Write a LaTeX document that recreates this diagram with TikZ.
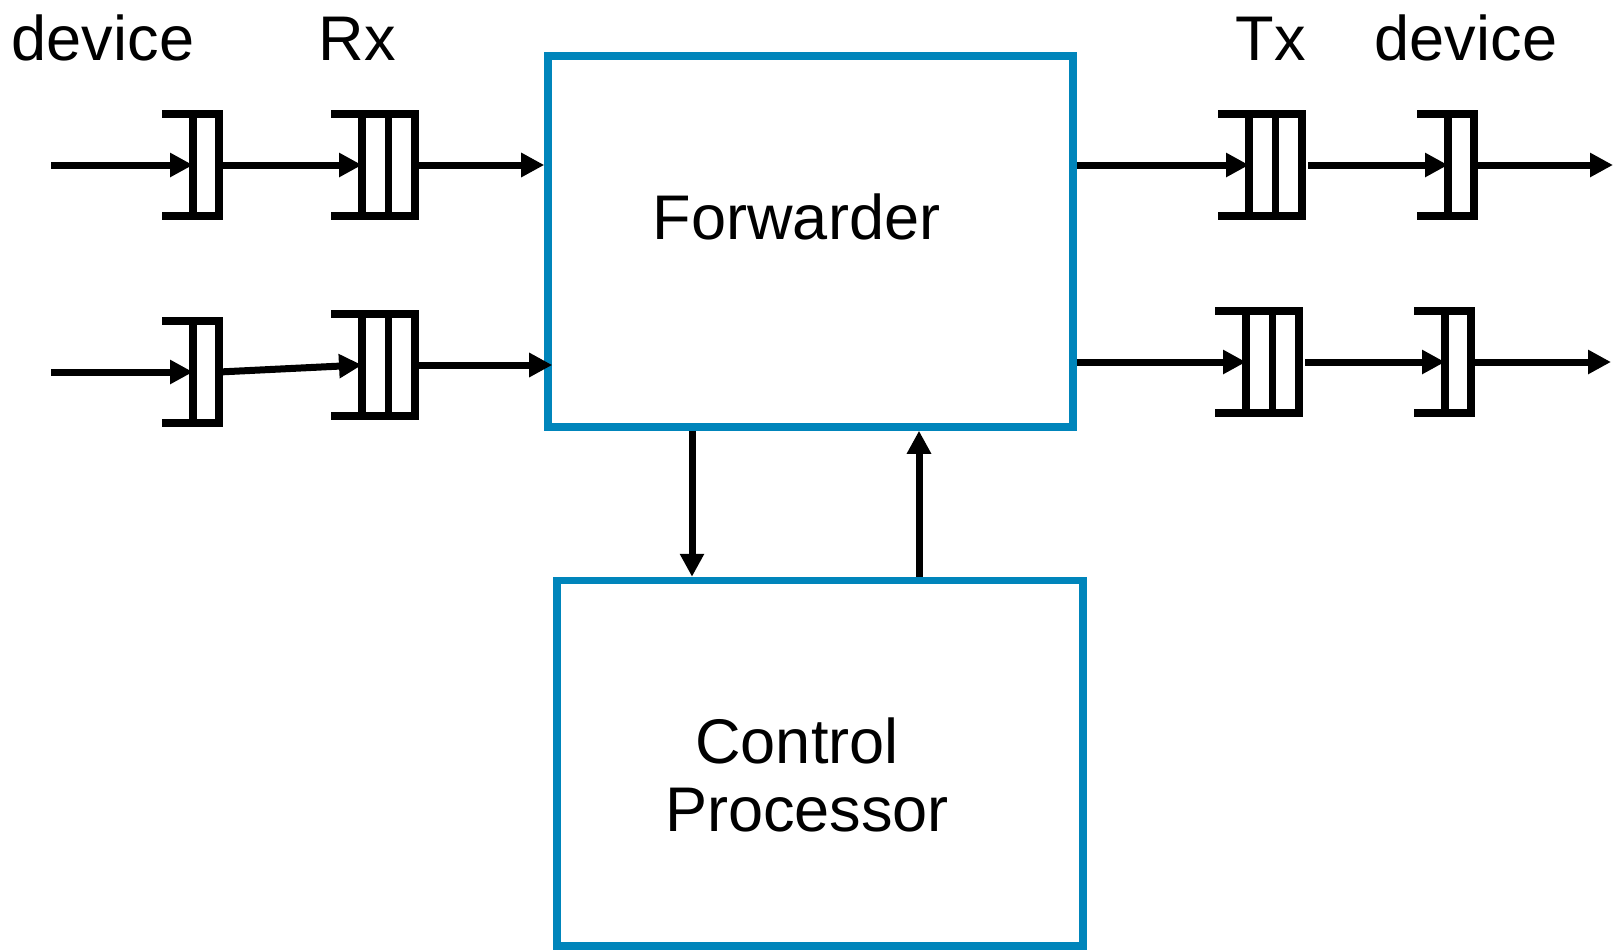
\documentclass[tikz,border=0pt]{standalone}
\usepackage{fontspec}
\setmainfont{Liberation Sans}
\usetikzlibrary{arrows.meta, calc}

\definecolor{hubblue}{RGB}{0,133,187}

\tikzset{
    queue/.style={draw, line width=1.45mm, inner sep=0pt, outer sep=0pt,
                  minimum height=20.4mm},
    hub/.style={draw=hubblue, line width=1.5mm, inner sep=0pt},
    lbl/.style={font=\fontsize{35.9}{43}\selectfont, inner sep=0pt, anchor=base},
    flow/.style={->, line width=1.4mm},
}

\begin{document}
\begin{tikzpicture}[>={Triangle[length=4.6mm, width=4.6mm]}, x=0.2mm, y=-0.2mm]

    \useasboundingbox (0,0) rectangle (1615,952);

    % Labels on top
    \node[lbl] (devinlbl)  at (103,60)  {device};
    \node[lbl] (rxlbl)     at (357,60)  {Rx};
    \node[lbl] (txlbl)     at (1271,60) {Tx};
    \node[lbl] (devoutlbl) at (1466,60) {device};

    % Queues (device and Rx on the left, Tx and device on the right)
    \node[queue, minimum width=5.2mm]  (dva) at (206,165)    {};
    \node[queue, minimum width=10.6mm] (rxa) at (388.5,165)  {};
    \node[queue, minimum width=5.2mm]  (dvb) at (206,372)    {};
    \node[queue, minimum width=10.6mm] (rxb) at (388.5,365)  {};
    \node[queue, minimum width=10.6mm] (txa) at (1275.5,165) {};
    \node[queue, minimum width=5.2mm]  (dra) at (1461,165)   {};
    \node[queue, minimum width=10.6mm] (txb) at (1272.5,362) {};
    \node[queue, minimum width=5.2mm]  (drb) at (1458,362)   {};

    % open ends and cell walls
    \foreach \q in {dva,dvb,rxa,rxb,txa,txb,dra,drb}
        \draw[line width=1.45mm] (\q.north west) -- ++(-31,0)
                                 (\q.south west) -- ++(-31,0);
    \foreach \q in {rxa,rxb,txa,txb}
        \draw[line width=1.45mm] (\q.north) -- (\q.south);

    % Blue blocks
    \node[hub, minimum width=105mm, minimum height=74.2mm] (fwd) at (810.5,241.5) {};
    \node[hub, minimum width=105.2mm, minimum height=73.1mm] (ctl) at (820,763.25) {};
    \node[lbl] (fwdlbl)  at (796.5,239) {Forwarder};
    \node[lbl] (ctllbl)  at (797,763)   {Control};
    \node[lbl] (ctllblb) at (807,831)   {Processor};

    % Free ends of the lines
    \coordinate (ina)  at (51,165);
    \coordinate (inb)  at (51,372);
    \coordinate (outa) at (1613,165);
    \coordinate (outb) at (1611,362);
    \coordinate (dnx)  at (692,500);
    \coordinate (upx)  at (919,500);

    % Input side
    \draw[flow] (ina) -- (dva.west);
    \draw[flow] (dva.east) -- (rxa.west);
    \draw[flow] (rxa.east) -- (rxa.east -| fwd.west);
    \draw[flow] (inb) -- (dvb.west);
    \draw[flow] (dvb.east) -- (rxb.west);
    \draw[flow] (rxb.east) -- ($(rxb.east -| fwd.west)+(8,0)$);

    % Output side
    \draw[flow] (txa.west -| fwd.east) -- (txa.west);
    \draw[flow] ($(txa.east)+(6,0)$) -- (dra.west);
    \draw[flow] (dra.east) -- (outa);
    \draw[flow] (txb.west -| fwd.east) -- (txb.west);
    \draw[flow] ($(txb.east)+(6,0)$) -- (drb.west);
    \draw[flow] (drb.east) -- (outb);

    % Forwarder <-> Control Processor
    \draw[flow] (fwd.south -| dnx) -- (ctl.north -| dnx);
    \draw[flow] (ctl.north -| upx) -- (fwd.south -| upx);

\end{tikzpicture}
\end{document}
